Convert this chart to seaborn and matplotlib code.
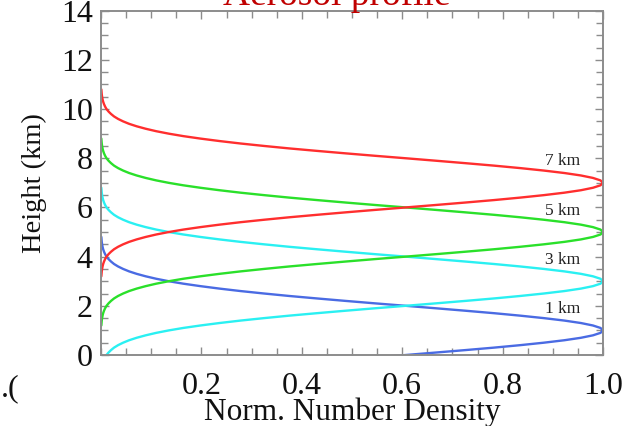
import numpy as np
import pandas as pd
import matplotlib
matplotlib.use("Agg")
import matplotlib.pyplot as plt
from matplotlib.ticker import MultipleLocator, FixedLocator
import seaborn as sns

# ---- data ----
peak_heights = [1, 3, 5, 7]                     # km
peak_labels = ["1 km", "3 km", "5 km", "7 km"]
line_colors = ["#4a6be3", "#2af0f2", "#2ae02a", "#ff2e2e"]
# normalized profile shape (same for each layer): height offset from peak (km)
offsets = [-3.8, -3.7, -3.6, -3.5, -3.4, -3.3, -3.2, -3.1, -3.0, -2.9, -2.8, -2.7,
           -2.6, -2.5, -2.4, -2.3, -2.2, -2.1, -2.0, -1.9, -1.8, -1.7, -1.6, -1.5,
           -1.4, -1.3, -1.2, -1.1, -1.0, -0.9, -0.8, -0.7, -0.6, -0.5, -0.4, -0.3,
           -0.2, -0.1, 0.0, 0.1, 0.2, 0.3, 0.4, 0.5, 0.6, 0.7, 0.8, 0.9, 1.0, 1.1,
           1.2, 1.3, 1.4, 1.5, 1.6, 1.7, 1.8, 1.9, 2.0, 2.1, 2.2, 2.3, 2.4, 2.5, 2.6,
           2.7, 2.8, 2.9, 3.0, 3.1, 3.2, 3.3, 3.4, 3.5, 3.6, 3.7, 3.8]
# normalized number density at those offsets
density = [0.0007, 0.0011, 0.0015, 0.0022, 0.0031, 0.0043, 0.0060, 0.0082, 0.011,
           0.015, 0.020, 0.026, 0.034, 0.044, 0.056, 0.071, 0.089, 0.110, 0.135,
           0.164, 0.198, 0.236, 0.278, 0.325, 0.375, 0.430, 0.487, 0.546, 0.607,
           0.667, 0.726, 0.783, 0.835, 0.882, 0.923, 0.956, 0.980, 0.995, 1.000,
           0.995, 0.980, 0.956, 0.923, 0.882, 0.835, 0.783, 0.726, 0.667, 0.607,
           0.546, 0.487, 0.430, 0.375, 0.325, 0.278, 0.236, 0.198, 0.164, 0.135,
           0.110, 0.089, 0.071, 0.056, 0.044, 0.034, 0.026, 0.020, 0.015, 0.011,
           0.0082, 0.0060, 0.0043, 0.0031, 0.0022, 0.0015, 0.0011, 0.0007]
x_ticklabels = ["0.2", "0.4", "0.6", "0.8", "1.0"]
y_ticklabels = ["0", "2", "4", "6", "8", "10", "12", "14"]

rows = []
for h, lab in zip(peak_heights, peak_labels):
    for o, d in zip(offsets, density):
        rows.append({"layer": lab, "height": h + o, "density": d})
df = pd.DataFrame(rows)

sns.set_style("ticks")
plt.rcParams["font.family"] = ["Liberation Serif", "DejaVu Serif"]

fig = plt.figure(figsize=(6.28, 4.26), dpi=100)
ax = fig.add_axes([101 / 628, 1 - 355 / 426, 502 / 628, (355 - 10.7) / 426])

sns.lineplot(data=df, x="density", y="height", hue="layer", hue_order=peak_labels,
             palette=line_colors, orient="y", estimator=None, sort=True,
             legend=False, lw=1.7, ax=ax)

ax.set_xlim(0, 1.0)
ax.set_ylim(0, 14)

ax.xaxis.set_major_locator(FixedLocator([float(t) for t in x_ticklabels]))
ax.set_xticklabels(x_ticklabels)
ax.xaxis.set_minor_locator(MultipleLocator(0.05))
ax.yaxis.set_major_locator(FixedLocator([float(t) for t in y_ticklabels]))
ax.set_yticklabels(y_ticklabels)
ax.yaxis.set_minor_locator(MultipleLocator(0.5))

frame_col = "#8c8c8c"
for s in ax.spines.values():
    s.set_color(frame_col)
    s.set_linewidth(1.4)
ax.tick_params(which="both", direction="in", top=True, right=True, color=frame_col,
               width=1.0)
ax.tick_params(which="major", length=6)
ax.tick_params(which="minor", length=5)
ax.tick_params(axis="x", which="major", pad=12, labelsize=23, labelcolor="#111111")
ax.tick_params(axis="y", which="major", pad=6, labelsize=23, labelcolor="#111111")

ax.set_xlabel("Norm. Number Density", fontsize=22.5, color="#111111", labelpad=-2)
ax.set_ylabel("Height (km)", fontsize=20.5, color="#111111", labelpad=10)

for h, lab in zip(peak_heights, peak_labels):
    ax.text(0.955, h + 0.55, lab, ha="right", va="bottom", fontsize=12.5,
            color="#222222")

fig.text(0.537, 1 - 5 / 426, "Aerosol profile", ha="center", va="baseline",
         fontsize=27, color="#c00000")
fig.text(0.002, 1 - 396 / 426, ".(", ha="left", va="baseline", fontsize=23,
         color="#111111")

fig.savefig("out.png", dpi=100)
